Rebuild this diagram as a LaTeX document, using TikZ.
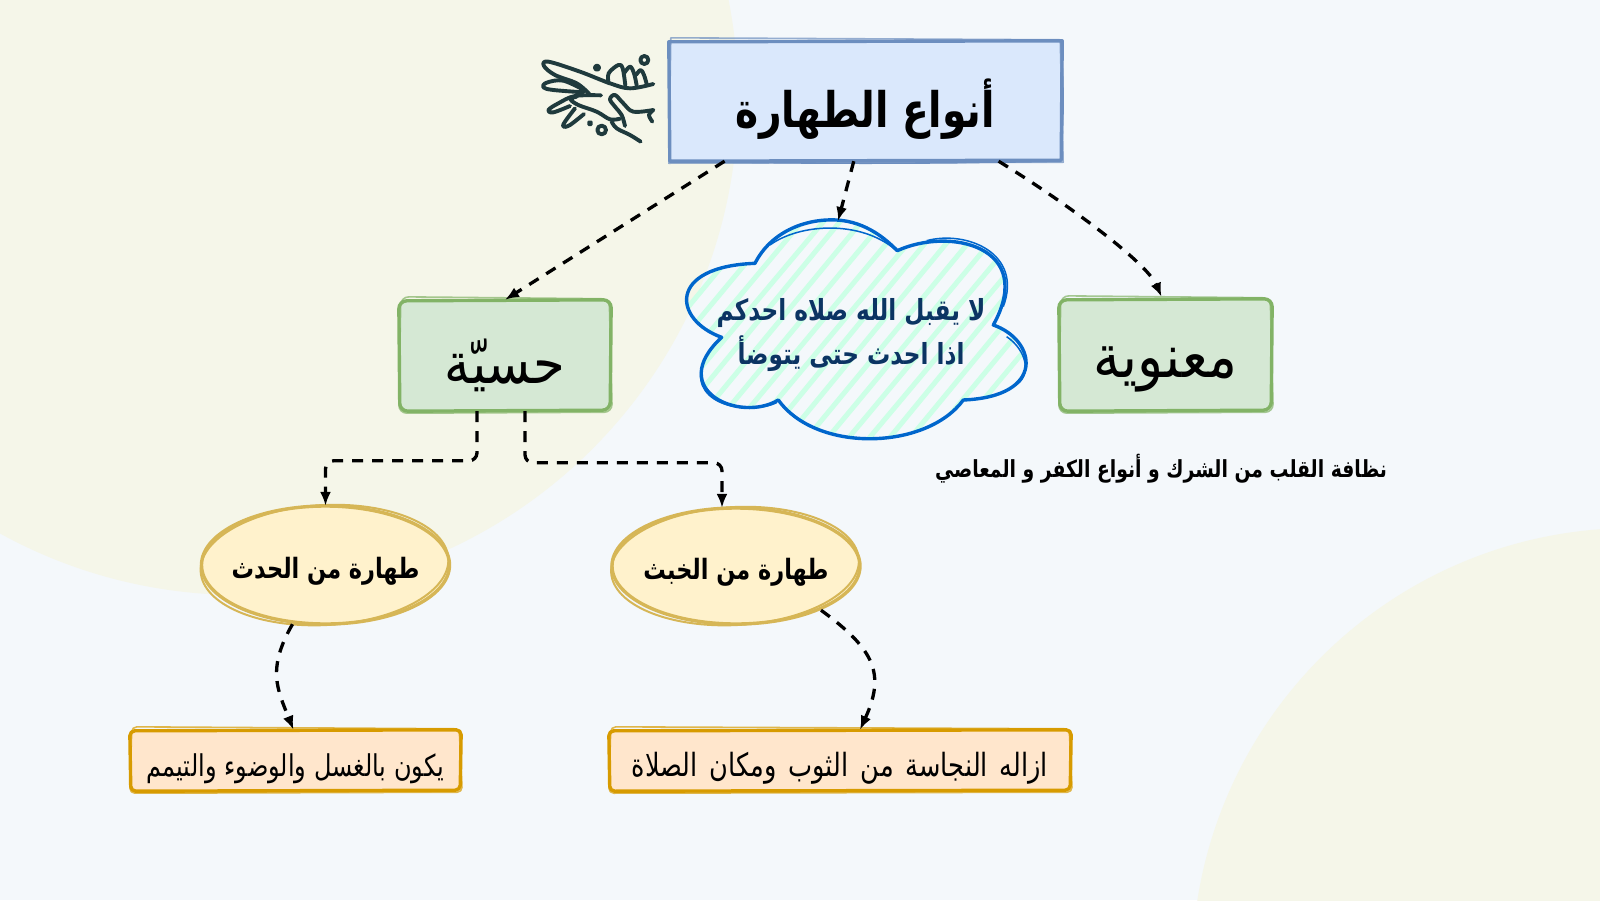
\documentclass[tikz,border=0pt]{standalone}
\usepackage{fontspec}
\usetikzlibrary{calc,shapes.geometric,arrows.meta}
\TeXXeTstate=1
\newfontfamily\arfont[Script=Arabic,FakeStretch=0.8]{DejaVu Sans}
\newfontfamily\arwide[Script=Arabic,FakeStretch=0.9]{DejaVu Sans}
\newfontfamily\arbold[Script=Arabic,FakeStretch=0.8]{DejaVu Sans Bold}
\definecolor{bgc}{HTML}{F4F8FB}
\definecolor{beige}{HTML}{F5F6E9}
\definecolor{bluef}{HTML}{DAE8FC}
\definecolor{blues}{HTML}{6C8EBF}
\definecolor{greenf}{HTML}{D5E8D4}
\definecolor{greens}{HTML}{82B366}
\definecolor{yellf}{HTML}{FFF2CC}
\definecolor{yells}{HTML}{D6B656}
\definecolor{orf}{HTML}{FFE6CC}
\definecolor{ors}{HTML}{D79B00}
\definecolor{clouds}{HTML}{0066CC}
\definecolor{cloudf}{HTML}{CCFFE6}
\definecolor{cloudt}{HTML}{0B3463}
\definecolor{icon}{HTML}{1F3A3D}
\tikzset{
 conn/.style={line width=3.3pt,black,dash pattern=on 11pt off 9pt,-{Latex[length=14pt,width=11pt]}},
 boxn/.style={rectangle,inner sep=0pt},
 elln/.style={ellipse,inner sep=0pt},
 txt/.style={inner sep=0pt,text=black,align=center},
}
\newcommand\roughbox[3]{%
 \draw[color=#2,line width=3.4pt,rounded corners=#3,line join=round]
  ($(#1.north west)+(-1,1)$) -- ($(#1.north east)+(1,0)$) -- ($(#1.south east)+(0,-1)$) -- ($(#1.south west)+(0,0)$) -- cycle;
 \draw[color=#2,line width=1.6pt,opacity=.7,rounded corners=#3,line join=round]
  ($(#1.north west)+(1,-3)$) -- ($(#1.north east)+(-1,-1)$) -- ($(#1.south east)+(2,1)$) -- ($(#1.south west)+(-1,2)$) -- cycle;
}
\newcommand\roughell[4]{%
 \draw[color=#2,line width=3.4pt] (#1.center) ellipse [x radius=#3,y radius=#4];
 \draw[color=#2,line width=2pt,rotate around={3:(#1.center)}] ($(#1.center)+(-1,0)$) ellipse [x radius=#3,y radius=#4+1];
}
\newcommand\cloudpath{(285,160) .. controls (330,70) and (430,25) .. (530,30) .. controls (620,35) and (680,90) .. (712,122) .. controls (870,50) and (1130,110) .. (1000,345) .. controls (1130,390) and (1160,560) .. (910,570) .. controls (800,720) and (470,730) .. (355,570) .. controls (240,640) and (15,540) .. (185,382) .. controls (40,330) and (20,170) .. cycle}
\begin{document}
\begin{tikzpicture}[x=1pt,y=-1pt]
\useasboundingbox (0,0) rectangle (1600,900);
\fill[bgc] (0,0) rectangle (1600,900);
\begin{scope}
\clip (0,0) rectangle (1600,900);
\fill[beige] (240,97) circle [radius=498];
\fill[beige] (1633,969) circle [radius=441];
\end{scope}
% icon
\begin{scope}[shift={(520,40)},x=0.3333pt,y=-0.3333pt]
\tikzset{every path/.append style={line width=3.9pt,draw=icon,line cap=round,line join=round}}
\draw plot[smooth,tension=.6] coordinates {(400,132) (330,145) (270,130) (180,95) (85,65) (72,78) (105,105) (170,130) (208,162)};
\draw plot[smooth,tension=.6] coordinates {(195,152) (130,122) (80,128) (70,142) (100,150) (190,157)};
\draw plot[smooth,tension=.6] coordinates {(243,166) (165,168) (115,190) (85,210) (100,217) (150,198)};
\draw plot[smooth,tension=.6] coordinates {(170,170) (152,178) (175,195) (230,215) (270,238) (300,236)};
\draw plot[smooth,tension=.6] coordinates {(165,205) (135,245) (130,260) (150,255) (192,222)};
\draw plot[smooth,tension=.6] coordinates {(275,245) (290,265) (330,285) (362,305)};
\draw plot[smooth,tension=.6] coordinates {(315,258) (305,225) (285,200) (270,178) (285,165) (310,190) (340,215) (400,210)};
\draw plot[smooth,tension=.6] coordinates {(400,210) (387,225) (397,245)};
\draw plot[smooth,tension=.6] coordinates {(266,130) (266,100) (295,75) (308,85) (316,136)};
\draw plot[smooth,tension=.6] coordinates {(312,100) (330,80) (342,100) (350,136)};
\draw plot[smooth,tension=.6] coordinates {(348,105) (362,90) (372,105) (380,132)};
\draw (373,60) circle [radius=12];
\draw (245,270) circle [radius=13];
\fill[icon] (231,83) circle [radius=6];
\fill[icon] (210,250) circle [radius=4];
\end{scope}
% cloud
\begin{scope}[shift={(660,210)},x=0.3333pt,y=-0.3333pt]
\begin{scope}
\clip \cloudpath;
\foreach \i in {0,...,40}{
 \pgfmathsetmacro{\dx}{mod(\i*37,17)-8}
 \draw[cloudf,line width=5pt] ({-800+\i*62},760) -- ({-800+\i*62+680+\dx},-60);
}
\end{scope}
\draw[clouds,line width=3.4pt,line join=round] \cloudpath;
\draw[clouds,line width=1.5pt] (330,105) .. controls (420,40) and (600,30) .. (705,118);
\draw[clouds,line width=1.5pt] (800,92) .. controls (920,60) and (1090,130) .. (1030,290);
\draw[clouds,line width=1.5pt] (350,578) .. controls (270,615) and (95,590) .. (125,470);
\draw[clouds,line width=1.5pt] (1040,380) .. controls (1100,420) and (1120,500) .. (1060,530);
\end{scope}
\node[text=cloudt,align=center,inner sep=0pt,font=\arbold\fontsize{29}{44}\selectfont] (cloud) at (851,335) {\beginR لا يقبل الله صلاه احدكم\endR\\\beginR اذا احدث حتى يتوضأ\endR};
\coordinate (cloudtop) at (838,221);
% boxes
\node[boxn,fill=bluef,minimum width=391pt,minimum height=120pt] (title) at (865.5,101) {};
\roughbox{title}{blues}{0pt}
\draw[blues,line width=1.6pt] (title.north east) to[bend left=3] (title.south east);
\draw[blues,line width=1.6pt] (title.south west) to[bend right=1] (title.south east);
\node[txt,font=\arbold\fontsize{49}{60}\selectfont] (titleT) at ($(title.center)+(0,8)$) {\beginR أنواع الطهارة\endR};
\node[boxn,fill=greenf,minimum width=210pt,minimum height=111pt,rounded corners=8pt] (hiss) at (505,355.5) {};
\roughbox{hiss}{greens}{8pt}
\node[txt,font=\arwide\fontsize{57}{68}\selectfont] (hissT) at ($(hiss.center)+(0,10)$) {\beginR حسيّة\endR};
\node[boxn,fill=greenf,minimum width=211pt,minimum height=112pt,rounded corners=8pt] (maan) at (1165.5,355) {};
\roughbox{maan}{greens}{8pt}
\node[txt,font=\arwide\fontsize{60}{68}\selectfont] (maanT) at ($(maan.center)+(0,14)$) {\beginR معنوية\endR};
\node[elln,fill=yellf,minimum width=249pt,minimum height=118pt] (hadath) at (325.5,565) {};
\roughell{hadath}{yells}{124}{59}
\node[txt,font=\arbold\fontsize{28}{34}\selectfont] (hadathT) at ($(hadath.center)+(0,6)$) {\beginR طهارة من الحدث\endR};
\node[elln,fill=yellf,minimum width=248pt,minimum height=116pt] (khabath) at (736,566) {};
\roughell{khabath}{yells}{124}{58}
\node[txt,font=\arbold\fontsize{28}{34}\selectfont] (khabathT) at ($(khabath.center)+(0,6)$) {\beginR طهارة من الخبث\endR};
\node[boxn,fill=orf,minimum width=329pt,minimum height=61pt,rounded corners=5pt] (ghusl) at (295.5,760.5) {};
\roughbox{ghusl}{ors}{5pt}
\node[txt,font=\arfont\fontsize{30}{36}\selectfont] (ghuslT) at ($(ghusl.center)+(0,8)$) {\beginR يكون بالغسل والوضوء والتيمم\endR};
\node[boxn,fill=orf,minimum width=460pt,minimum height=61pt,rounded corners=5pt] (najasa) at (840,760.5) {};
\roughbox{najasa}{ors}{5pt}
\node[txt,font=\arfont\fontsize{32}{36}\selectfont] (najasaT) at ($(najasa.center)+(0,8)$) {\spaceskip=12pt\relax\beginR ازاله النجاسة من الثوب ومكان الصلاة\endR};
\node[txt,font=\arbold\fontsize{23.5}{28}\selectfont] (note) at (1161,469) {\beginR نظافة القلب من الشرك و أنواع الكفر و المعاصي\endR};
% connectors
\draw[conn] ($(title.south west)!.14!(title.south east)$) -- (hiss.north);
\draw[conn] ($(title.south west)!.47!(title.south east)$) -- (cloudtop);
\draw[conn] ($(title.south west)!.84!(title.south east)$) .. controls +(65,40) and +(-15,-35) .. ($(maan.north)+(-4,-2)$);
\draw[conn,rounded corners=8pt] ($(hiss.south)+(-28,0)$) |- ($(hadath.north)+(60,-45)$) -- ($(hadath.north)+(0,-45)$) -- (hadath.north);
\draw[conn,rounded corners=8pt] ($(hiss.south)+(20,0)$) |- ($(khabath.north)+(-60,-45)$) -- ($(khabath.north)+(-14,-45)$) -- ($(khabath.north)+(-14,0)$);
\draw[conn] ($(hadath.south)+(-33,0)$) .. controls +(-26,45) and +(-16,-40) .. ($(ghusl.north)+(-2,0)$);
\draw[conn] ($(khabath.south)+(85,-14)$) .. controls +(55,40) and +(25,-55) .. ($(najasa.north)+(20,0)$);
\end{tikzpicture}
\end{document}
